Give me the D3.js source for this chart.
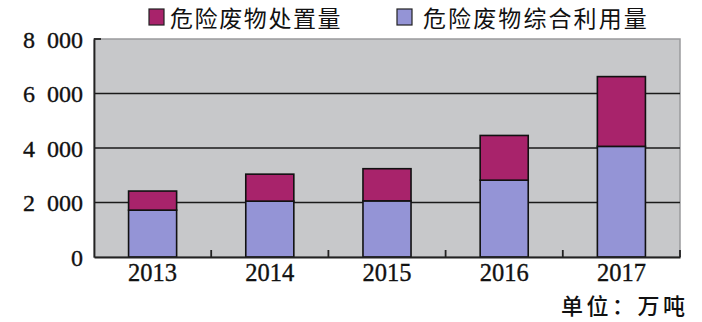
<!DOCTYPE html>
<html><head><meta charset="utf-8">
<script src="https://cdn.jsdelivr.net/npm/d3@7"></script>
<style>body{margin:0;background:#fff}svg{display:block}.yt text{white-space:pre}</style>
</head><body>
<svg id="c" width="702" height="322"></svg>
<script>
const years = ["2013","2014","2015","2016","2017"];
const utilization = [1720, 2050, 2060, 2820, 4060];
const disposal = [700, 990, 1180, 1640, 2560];
const seriesNames = ["危险废物处置量","危险废物综合利用量"];
const yTicks = [0, 2000, 4000, 6000, 8000];
const unitLabel = "单位：万吨";

const svg = d3.select("#c");
const m = {l:94, r:22, t:39, b:65};
const W = 702, H = 322;
const x = d3.scaleBand().domain(years).range([m.l, W-m.r]).paddingInner(0.59).paddingOuter(0.295);
const y = d3.scaleLinear().domain([0,8000]).range([H-m.b, m.t]);
const colDisp = "#a8236b", colUtil = "#9494d6";
const serif = "'Liberation Serif','DejaVu Serif',serif";

svg.append("rect").attr("x",m.l).attr("y",m.t).attr("width",W-m.r-m.l).attr("height",H-m.b-m.t)
  .attr("fill","#c7c8ca").attr("stroke","#9a9b9d").attr("stroke-width",1.5);

// gridlines
svg.append("g").selectAll("line").data(yTicks.filter(d=>d>0 && d<8000)).join("line")
  .attr("x1",m.l).attr("x2",W-m.r).attr("y1",d=>y(d)).attr("y2",d=>y(d))
  .attr("stroke","#1a1a1a").attr("stroke-width",1.6);

const data = years.map((yr,i)=>({yr, u:utilization[i], d:disposal[i]}));
const g = svg.append("g");
g.selectAll(".u").data(data).join("rect")
  .attr("x",d=>x(d.yr)).attr("width",x.bandwidth())
  .attr("y",d=>y(d.u)).attr("height",d=>y(0)-y(d.u))
  .attr("fill",colUtil).attr("stroke","#111").attr("stroke-width",1.6);
g.selectAll(".d").data(data).join("rect")
  .attr("x",d=>x(d.yr)).attr("width",x.bandwidth())
  .attr("y",d=>y(d.u+d.d)).attr("height",d=>y(d.u)-y(d.u+d.d))
  .attr("fill",colDisp).attr("stroke","#111").attr("stroke-width",1.6);

// axes
const ya = svg.append("g").attr("class","yt").attr("transform",`translate(${m.l},0)`)
  .call(d3.axisLeft(y).tickValues(yTicks).tickSize(0).tickPadding(11)
    .tickFormat(d=>d===0?"0":d3.format(",")(d).replace(",","  ")));
ya.select(".domain").attr("stroke","#222").attr("stroke-width",1.8);
ya.selectAll("text").attr("font-family",serif).attr("font-size",24).attr("fill","#111")
  .attr("stroke","#111").attr("stroke-width",0.35).attr("dy","0.35em");
svg.append("line").attr("x1",m.l).attr("x2",m.l+7).attr("y1",y(8000)).attr("y2",y(8000)).attr("stroke","#222").attr("stroke-width",1.8);

const xa = svg.append("g").attr("transform",`translate(0,${H-m.b})`)
  .call(d3.axisBottom(x).tickSize(0).tickPadding(7));
xa.select(".domain").attr("stroke","#222").attr("stroke-width",1.8);
xa.selectAll("text").attr("font-family",serif).attr("font-size",24.5).attr("fill","#111")
  .attr("stroke","#111").attr("stroke-width",0.35).attr("dy","0.71em");
// ticks between categories
const bounds = years.slice(1).map(yr=>x(yr)-x.step()*x.paddingInner()/2).concat([W-m.r]);
svg.append("g").selectAll("line").data(bounds).join("line")
  .attr("x1",d=>d).attr("x2",d=>d).attr("y1",y(0)).attr("y2",y(0)-7)
  .attr("stroke","#222").attr("stroke-width",1.8);

// legend
const leg = [{n:seriesNames[0], c:colDisp, sx:149, tx:170, ls:1.6},{n:seriesNames[1], c:colUtil, sx:397, tx:423, ls:2.1}];
const lg = svg.append("g");
leg.forEach(l=>{
  lg.append("rect").attr("x",l.sx).attr("y",9).attr("width",15).attr("height",16).attr("fill",l.c).attr("stroke","#222").attr("stroke-width",1.2);
  lg.append("text").attr("x",l.tx).attr("y",27).text(l.n)
    .attr("font-family","'Noto Sans CJK SC',sans-serif").attr("font-size",23).attr("fill","#111")
    .attr("letter-spacing",l.ls);
});
svg.append("text").attr("x",561).attr("y",314).text(unitLabel)
  .attr("font-family","'Noto Sans CJK SC',sans-serif").attr("font-size",22).attr("font-weight",500).attr("fill","#111")
  .attr("letter-spacing",3.5);
</script>
</body></html>
